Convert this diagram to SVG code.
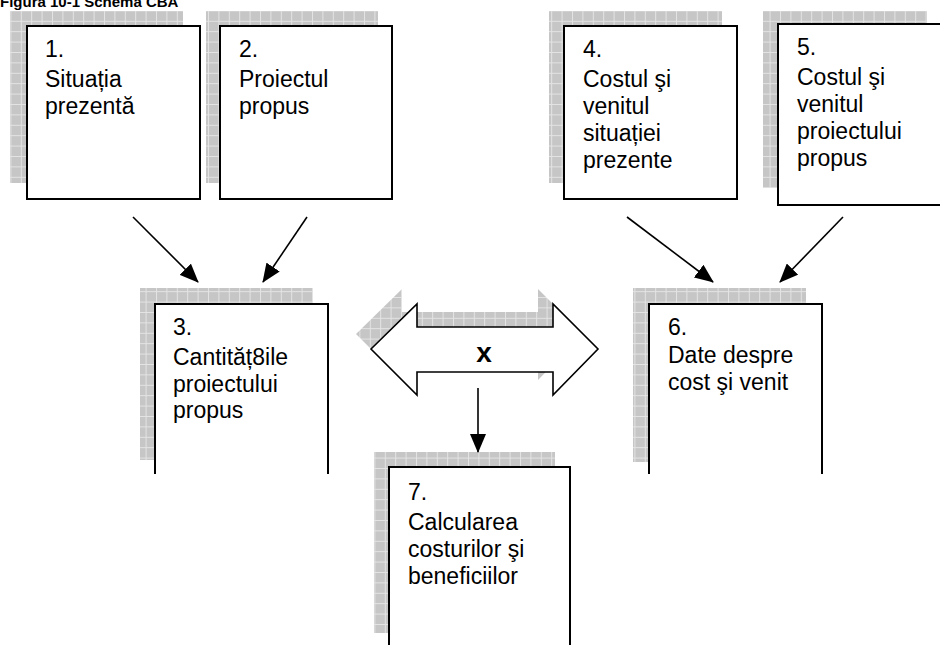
<svg xmlns="http://www.w3.org/2000/svg" width="940" height="645" viewBox="0 0 940 645">
<style>
.t{font-family:"Liberation Sans",Arial,sans-serif;font-size:23px;fill:#000}
.title{font-family:"Liberation Sans",Arial,sans-serif;font-size:15px;font-weight:bold;fill:#000}
.box{fill:#fff;stroke:#000;stroke-width:2}
.open{fill:#fff;stroke:none}
.edge{fill:none;stroke:#000;stroke-width:2}
.sh{fill:url(#grid)}
.conn{stroke:#000;stroke-width:1.6;fill:none}
</style>
<defs>
<pattern id="grid" patternUnits="userSpaceOnUse" width="10.4" height="10.4" x="0" y="0">
<rect width="10.4" height="10.4" fill="#c6c6c6"/>
<path d="M0,0.5H10.4M0.5,0V10.4" stroke="#e4e4e4" stroke-width="1" fill="none"/>
</pattern>
<marker id="ah" markerWidth="20" markerHeight="16" refX="18" refY="8" orient="auto" markerUnits="userSpaceOnUse">
<path d="M0,0 L19,8 L0,16 Z" fill="#000"/>
</marker>
</defs>
<text class="title" x="0" y="7">Figura 10-1 Schema CBA</text>

<g id="node1">
<rect class="sh" x="10" y="11" width="173" height="172"/>
<rect class="box" x="27" y="26" width="173" height="173"/>
<text class="t" x="45" y="57">1.</text>
<text class="t" x="45" y="87">Situația</text>
<text class="t" x="45" y="114">prezentă</text>
</g>
<g id="node2">
<rect class="sh" x="206" y="11" width="172" height="172"/>
<rect class="box" x="220" y="26" width="172" height="173"/>
<text class="t" x="239" y="57">2.</text>
<text class="t" x="239" y="87">Proiectul</text>
<text class="t" x="239" y="114">propus</text>
</g>
<g id="node4">
<rect class="sh" x="549" y="11" width="173" height="172"/>
<rect class="box" x="564" y="26" width="173" height="173"/>
<text class="t" x="583" y="57">4.</text>
<text class="t" x="583" y="87">Costul şi</text>
<text class="t" x="583" y="114">venitul</text>
<text class="t" x="583" y="141">situației</text>
<text class="t" x="583" y="168">prezente</text>
</g>
<g id="node5">
<rect class="sh" x="763" y="11" width="164" height="177"/>
<rect class="box" x="778" y="24" width="170" height="181"/>
<text class="t" x="797" y="55">5.</text>
<text class="t" x="797" y="85">Costul şi</text>
<text class="t" x="797" y="112">venitul</text>
<text class="t" x="797" y="139">proiectului</text>
<text class="t" x="797" y="166">propus</text>
</g>
<g id="node3">
<rect class="sh" x="140" y="288" width="173" height="172"/>
<rect class="open" x="155" y="304" width="173" height="170"/>
<path class="edge" d="M155,474 V304 H328 V474"/>
<text class="t" x="173" y="335">3.</text>
<text class="t" x="173" y="365">Cantităț8ile</text>
<text class="t" x="173" y="392">proiectului</text>
<text class="t" x="173" y="418">propus</text>
</g>
<g id="node6">
<rect class="sh" x="633" y="288" width="173" height="174"/>
<rect class="open" x="649" y="304" width="173" height="170"/>
<path class="edge" d="M649,474 V304 H822 V474"/>
<text class="t" x="668" y="335">6.</text>
<text class="t" x="668" y="363">Date despre</text>
<text class="t" x="668" y="390">cost şi venit</text>
</g>
<g id="node7">
<rect class="sh" x="374" y="452" width="181" height="181"/>
<rect class="open" x="389" y="467" width="181" height="180"/>
<path class="edge" d="M389,647 V467 H570 V647"/>
<text class="t" x="408" y="500">7.</text>
<text class="t" x="408" y="530">Calcularea</text>
<text class="t" x="408" y="557">costurilor şi</text>
<text class="t" x="408" y="584">beneficiilor</text>
</g>
<g id="nodeX">
<path class="sh" transform="translate(-15,-15)" d="M371,349 L417,304 L417,327 L553,327 L553,304 L598,349 L553,395 L553,372 L417,372 L417,395 Z"/>
<path d="M371,349 L417,304 L417,327 L553,327 L553,304 L598,349 L553,395 L553,372 L417,372 L417,395 Z" fill="#fff" stroke="#000" stroke-width="1.6" stroke-linejoin="miter"/>
<text x="484" y="362" text-anchor="middle" font-family="Liberation Sans, Arial, sans-serif" font-size="28" font-weight="bold">x</text>
</g>
<g id="connectors">
<line class="conn" x1="133" y1="217" x2="198" y2="282" marker-end="url(#ah)"/>
<line class="conn" x1="307" y1="217" x2="263" y2="282" marker-end="url(#ah)"/>
<line class="conn" x1="627" y1="217" x2="713" y2="282" marker-end="url(#ah)"/>
<line class="conn" x1="843" y1="217" x2="780" y2="282" marker-end="url(#ah)"/>
<line class="conn" x1="478" y1="388" x2="478" y2="452" marker-end="url(#ah)"/>
</g>
</svg>
